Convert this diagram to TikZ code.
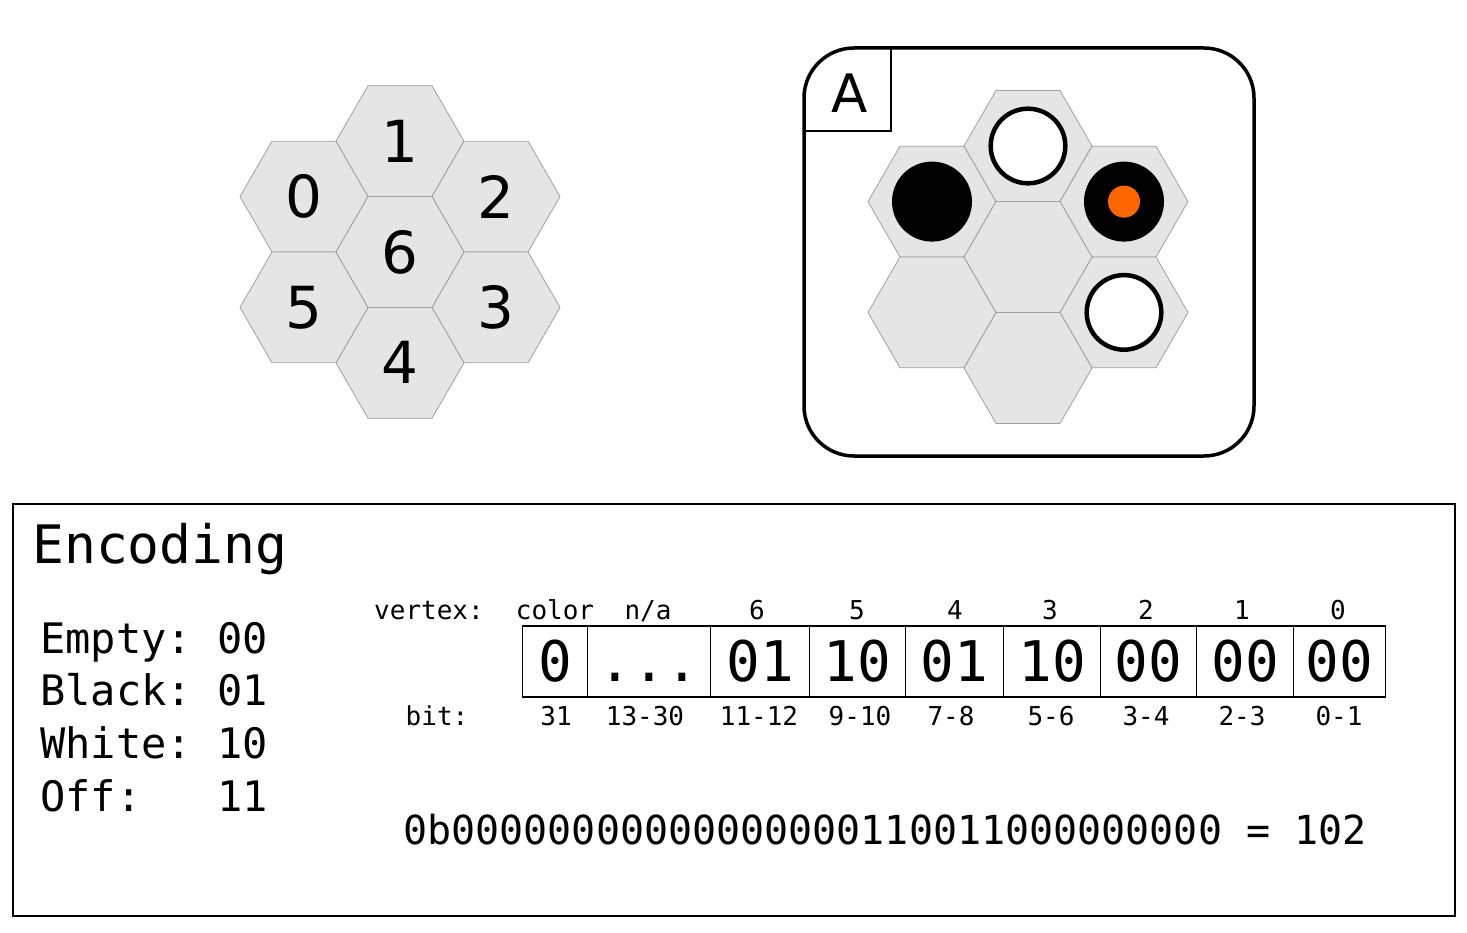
\documentclass[tikz,border=0pt]{standalone}
\usepackage{fontspec}
\setmainfont{DejaVu Sans}
\newfontfamily\mono{DejaVu Sans Mono}[WordSpace={1,0,0}]
\definecolor{hexfill}{HTML}{E5E5E5}
\definecolor{hexline}{HTML}{A0A0A0}
\definecolor{dotorange}{HTML}{FF6600}
\newcommand\threedots{.{}.{}.}
\begin{document}
\begin{tikzpicture}[x=1pt,y=-1pt,
  hexc/.style={fill=hexfill,draw=hexline,line width=0.8pt},
  hexlab/.style={font=\fontsize{58}{60}\selectfont,inner sep=0pt},
  whitestone/.style={fill=white,draw=black,line width=4.5pt},
  blackstone/.style={fill=black},
  cell/.style={draw=black,line width=1.1pt,minimum height=71pt,inner sep=0pt,anchor=west,font=\mono\fontsize{56}{58}\selectfont},
  small/.style={font=\mono\fontsize{26}{28}\selectfont,inner sep=0pt,anchor=base},
  legend/.style={font=\mono\fontsize{42}{44}\selectfont,inner sep=0pt,anchor=base west}]
\useasboundingbox (0,0) rectangle (1467,933);

% left board
\foreach \n/\x/\y/\t in {h0/304/196.6/0,h1/400/141.15/1,h2/496/196.6/2,h3/496/307.4/3,h4/400/362.85/4,h5/304/307.4/5,h6/400/252/6} {
  \draw[hexc] (\x,\y) +(0:64pt) -- +(60:64pt) -- +(120:64pt) -- +(180:64pt) -- +(240:64pt) -- +(300:64pt) -- cycle;
  \node[hexlab] (\n) at (\x,\y) {\t};
}

% right board
\draw[line width=3.5pt,rounded corners=50pt] (804,48) rectangle (1254,456);
\draw[line width=2pt] (804,131) -- (891,131) -- (891,48);
\node[font=\fontsize{53}{55}\selectfont,inner sep=0pt] (A) at (850,93) {A};
\foreach \n/\x/\y in {b0/932/201.6,b1/1028/146,b2/1124/201.6,b3/1124/312.4,b4/1028/368,b5/932/312.4,b6/1028/257} {
  \draw[hexc] (\x,\y) +(0:64pt) -- +(60:64pt) -- +(120:64pt) -- +(180:64pt) -- +(240:64pt) -- +(300:64pt) -- cycle;
  \coordinate (\n) at (\x,\y);
}
\fill[blackstone] (b0) circle (40pt);
\draw[whitestone] (b1) circle (37.3pt);
\fill[blackstone] (b2) circle (40pt);
\fill[dotorange] (b2) circle (16pt);
\draw[whitestone] (b3) circle (37.3pt);

% encoding box
\draw[line width=1.8pt] (13,504) rectangle (1455,916);
\node[font=\mono\fontsize{53}{55}\selectfont,inner sep=0pt,anchor=base west] (enc) at (32,563) {Encoding};
\node[legend] (le) at (40,653) {Empty:};
\node[legend] (lev) at (217,653) {00};
\node[legend] (lb) at (40,705) {Black:};
\node[legend] (lbv) at (217,705) {01};
\node[legend] (lw) at (40,758) {White:};
\node[legend] (lwv) at (217,758) {10};
\node[legend] (lo) at (40,811) {Off:};
\node[legend] (lov) at (217,811) {11};

% table
\node[small] (vtx) at (429,619) {vertex:};
\node[small] (bit) at (437,725) {bit:};
\foreach \n/\x/\w/\v/\top/\tx/\bot/\bx in {c31/522/65/0/color/555/31/556, cna/587/123/\threedots/n\slash a/648/13-30/645, c6/710/99/01/6/757/11-12/759, c5/809/96/10/5/857/9-10/860, c4/905/98/01/4/955/7-8/951, c3/1003/97/10/3/1050/5-6/1051, c2/1100/96/00/2/1146/3-4/1146, c1/1196/97/00/1/1242/2-3/1242, c0/1293/92/00/0/1338/0-1/1339} {
  \node[cell,minimum width=\w pt] (\n) at (\x,661.5) {\vphantom{0}\v};
  \node[small] (\n t) at (\tx,619) {\top};
  \node[small] (\n b) at (\bx,725) {\bot};
}

\node[font=\mono\fontsize{40}{42}\selectfont,inner sep=0pt,anchor=base] (bin) at (885,844) {0b00000000000000000110011000000000 = 102};
\end{tikzpicture}
\end{document}
